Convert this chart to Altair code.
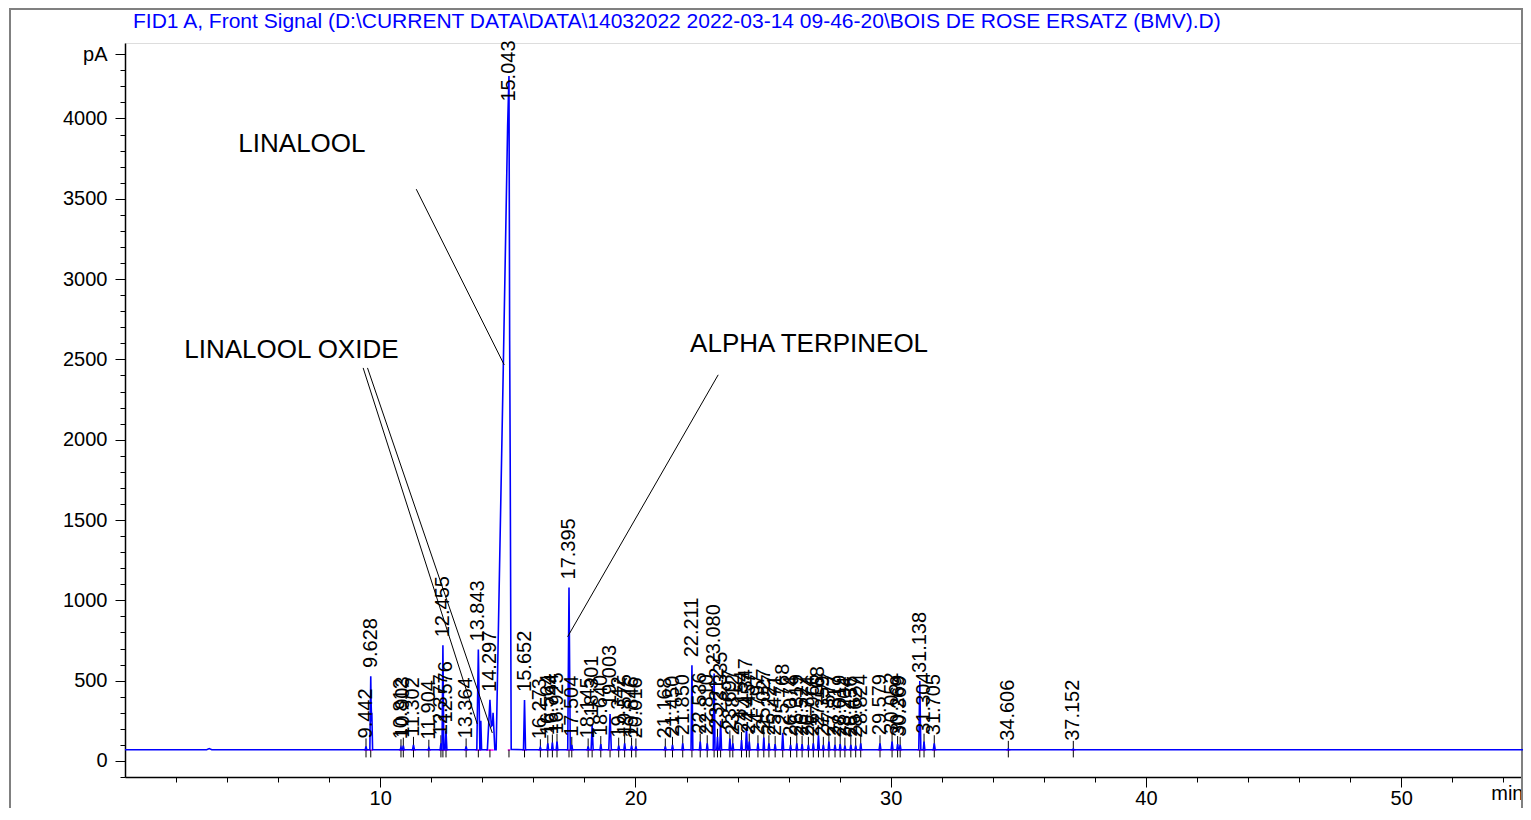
import altair as alt
import pandas as pd
import numpy as np

TITLE = r"FID1 A, Front Signal (D:\CURRENT DATA\DATA\14032022 2022-03-14 09-46-20\BOIS DE ROSE ERSATZ (BMV).D)"
FONT = "Liberation Sans"
BASE = 70  # detector baseline, pA
X_END = 54.77  # last visible minute of the run window

# ---- labelled peaks: retention time (min), apex (pA), half width (min) ----
peak_rt = [9.442, 9.628, 10.812, 10.903, 11.302, 11.904, 12.377, 12.455, 12.576, 13.364,
           13.843, 14.297, 15.043, 15.652, 16.273, 16.564, 16.744, 16.925, 17.395, 17.504,
           18.145, 18.301, 18.640, 19.003, 19.342, 19.575, 19.846, 20.016, 21.168, 21.450,
           21.850, 22.211, 22.536, 22.810, 23.080, 23.212, 23.335, 23.697, 23.812, 24.154,
           24.347, 24.457, 24.797, 25.027, 25.227, 25.471, 25.768, 26.074, 26.319, 26.527,
           26.774, 26.966, 27.168, 27.359, 27.577, 27.817, 28.019, 28.204, 28.436, 28.627,
           28.824, 29.579, 30.052, 30.269, 30.369, 31.138, 31.304, 31.705, 34.606, 37.152]
peak_height = [90, 528, 85, 95, 100, 82, 110, 720, 190, 90,
               694, 380, 4264, 380, 85, 110, 115, 120, 1080, 100,
               90, 225, 105, 292, 95, 110, 95, 90, 90, 100,
               110, 595, 120, 110, 545, 150, 250, 140, 110, 130,
               210, 120, 110, 145, 110, 105, 175, 100, 110, 105,
               100, 110, 160, 100, 120, 100, 105, 95, 100, 95,
               110, 110, 120, 105, 100, 497, 120, 110, 75, 75]
peak_halfwidth = [0.03, 0.035, 0.03, 0.03, 0.035, 0.03, 0.03, 0.035, 0.035, 0.03,
                  0.06, 0.10, 0.0, 0.04, 0.03, 0.03, 0.03, 0.03, 0.05, 0.03,
                  0.03, 0.04, 0.03, 0.05, 0.03, 0.03, 0.03, 0.03, 0.03, 0.03,
                  0.03, 0.035, 0.03, 0.03, 0.035, 0.03, 0.035, 0.03, 0.03, 0.03,
                  0.035, 0.03, 0.03, 0.03, 0.03, 0.03, 0.035, 0.03, 0.03, 0.03,
                  0.03, 0.03, 0.035, 0.03, 0.03, 0.03, 0.03, 0.03, 0.03, 0.03,
                  0.03, 0.035, 0.035, 0.03, 0.03, 0.04, 0.03, 0.035, 0.03, 0.03]

# ---- unlabelled bumps / shoulders ----
extra_rt = [3.30, 9.67, 13.94, 14.42]
extra_height = [77, 300, 250, 300]
extra_halfwidth = [0.10, 0.03, 0.03, 0.07]

# ---- outline of the overloaded main peak (linalool) ----
main_rt = [14.54, 14.82, 14.99, 15.043, 15.07, 15.09, 15.13]
main_v = [70, 2445, 3950, 4264, 2615, 1915, 72]

# ---- annotations ----
ann_text = ["LINALOOL", "LINALOOL OXIDE", "ALPHA TERPINEOL"]
ann_rt = [4.44, 2.32, 22.14]
ann_v = [3840, 2560, 2596]
ptr_rt1 = [11.41, 9.33, 9.50, 23.24]
ptr_v1 = [3560, 2447, 2447, 2404]
ptr_rt2 = [14.857, 13.80, 14.39, 17.34]
ptr_v2 = [2466, 230, 174, 773]

# ---------------- build the trace ----------------
all_rt = peak_rt + extra_rt
all_h = peak_height + extra_height
all_w = peak_halfwidth + extra_halfwidth
xs = {0.0, X_END}
for r, w in zip(all_rt, all_w):
    if w > 0:
        xs.update([r - w, r, r + w])
xs.update(main_rt)
xs = np.array(sorted(xs))
vals = np.full(xs.shape, float(BASE))
for r, h, w in zip(all_rt, all_h, all_w):
    if w > 0:
        vals += np.clip(1 - np.abs(xs - r) / w, 0, None) * (h - BASE)
vals += np.interp(xs, main_rt, main_v, left=BASE, right=BASE) - BASE
trace = pd.DataFrame({"rt": xs, "v": vals})

peaks = pd.DataFrame({"rt": peak_rt, "h": peak_height, "w": peak_halfwidth})
peaks["label"] = [f"{r:.3f}" for r in peak_rt]
peaks["lv"] = np.minimum(peaks["h"] + 50, 4105)
peaks["t1"] = 22
peaks["t2"] = np.where(peaks["h"] <= 150, peaks["h"] + 50, BASE)
peaks["b1"] = peaks["rt"] - peaks["w"] - 0.05
peaks["b2"] = peaks["rt"] + peaks["w"] + 0.05
peaks["bv"] = BASE - 2

ann = pd.DataFrame({"text": ann_text, "rt": ann_rt, "v": ann_v})
ptr = pd.DataFrame({"rt": ptr_rt1, "v": ptr_v1, "rt2": ptr_rt2, "v2": ptr_v2})

# ---------------- scales & axes ----------------
xscale = alt.Scale(domain=[0, X_END], nice=False, zero=False)
yscale = alt.Scale(domain=[-100, 4470], nice=False, zero=False)

xaxis = alt.Axis(
    values=list(range(2, 55, 2)) + [X_END],
    labelExpr="datum.value > 54.5 ? 'min' : (datum.value % 10 == 0 ? datum.label : '')",
    format="d", title=None, grid=False, labelOverlap=False, labelFlush=False,
    tickSize={"condition": {"test": "datum.value % 10 == 0", "value": 10}, "value": 5},
    tickOpacity={"condition": {"test": "datum.value > 54.5", "value": 0}, "value": 1},
    labelAlign={"condition": {"test": "datum.value > 54.5", "value": "right"}, "value": "center"},
    labelFontSize=20, labelFont=FONT, labelColor="black", labelPadding=1,
    tickColor="black", domainColor="black", domainWidth=1.5,
)
yaxis = alt.Axis(
    values=list(range(-100, 4401, 100)),
    labelExpr="datum.value == 4400 ? 'pA' : (datum.value % 500 == 0 && datum.value >= 0 ? datum.label : '')",
    format="d", title=None, grid=False, labelOverlap=False, labelFlush=False,
    tickSize={"condition": {"test": "datum.value % 500 == 0 || datum.value == 4400", "value": 10}, "value": 5},
    labelFontSize=20, labelFont=FONT, labelColor="black", labelPadding=8, labelBaseline="middle",
    tickColor="black", domainColor="black", domainWidth=1.5,
)


def X(f):
    return alt.X(f"{f}:Q", scale=xscale, axis=xaxis)


def Y(f):
    return alt.Y(f"{f}:Q", scale=yscale, axis=yaxis)


one = pd.DataFrame({"t": [TITLE]})

frame = alt.Chart(one).mark_rect(
    fill=None, stroke="#808080", strokeWidth=2, clip=False
).encode(x=alt.value(-115), x2=alt.value(1397), y=alt.value(-34), y2=alt.value(820))

title = alt.Chart(one).mark_text(
    align="left", baseline="alphabetic", fontSize=21, font=FONT, color="#0000FF"
).encode(x=alt.value(8), y=alt.value(-15), text="t:N")

baseseg = alt.Chart(peaks).mark_rule(color="#FF00FF", strokeWidth=1.5).encode(
    x=X("b1"), x2="b2", y=Y("bv"))

ticks = alt.Chart(peaks).mark_rule(color="black", strokeWidth=1).encode(
    x=X("rt"), y=Y("t1"), y2="t2")

line = alt.Chart(trace).mark_line(color="#0000FF", strokeWidth=1.6).encode(
    x=X("rt"), y=Y("v"))

labels = alt.Chart(peaks).mark_text(
    angle=270, align="left", baseline="middle", fontSize=20, font=FONT, color="black"
).encode(x=X("rt"), y=Y("lv"), text="label:N")

pointers = alt.Chart(ptr).mark_rule(color="black", strokeWidth=1).encode(
    x=X("rt"), y=Y("v"), x2="rt2", y2="v2")

anntext = alt.Chart(ann).mark_text(
    align="left", baseline="middle", fontSize=26, font=FONT, color="black"
).encode(x=X("rt"), y=Y("v"), text="text:N")

chart = alt.layer(frame, title, baseseg, ticks, line, labels, pointers, anntext).properties(
    width=1398, height=734,
    autosize=alt.AutoSizeParams(type="none"),
    padding={"left": 117, "top": 35, "right": 0, "bottom": 31},
).configure_view(stroke=None).configure(font=FONT)

chart.save("out.html", embed_options={"renderer": "svg", "actions": False})
